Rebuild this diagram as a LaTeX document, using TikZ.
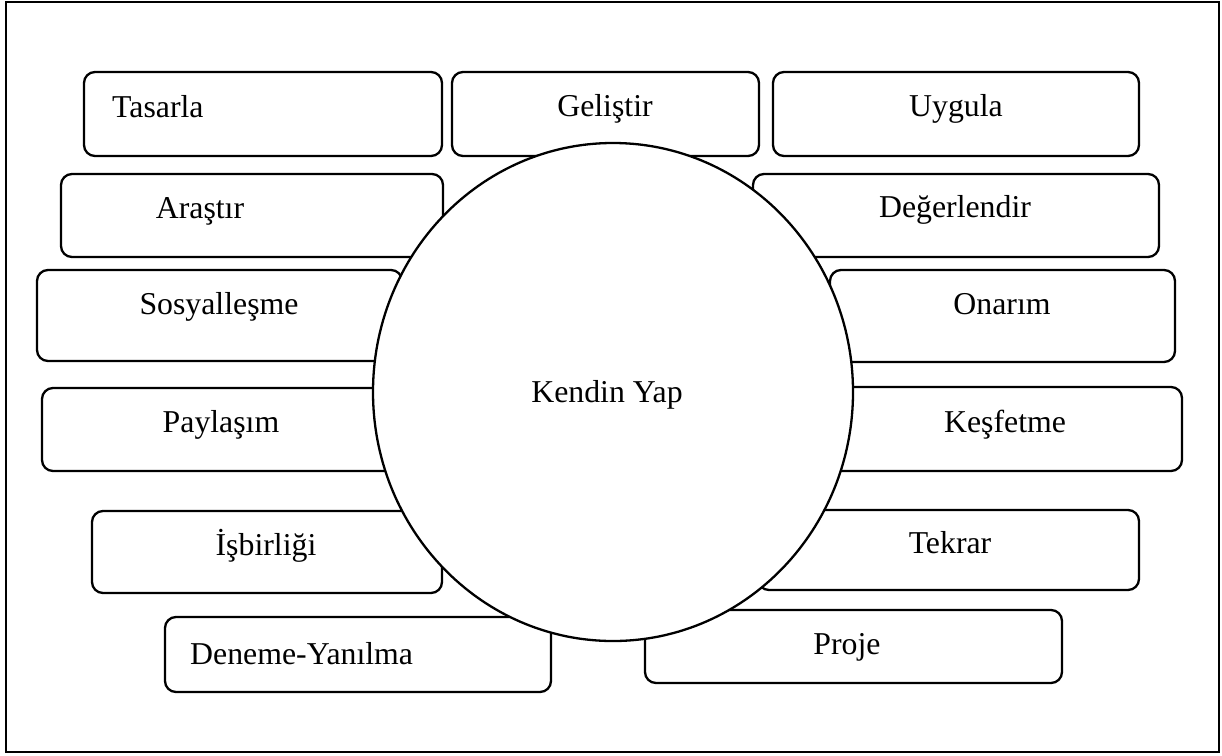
\documentclass[tikz,border=0pt]{standalone}
\usepackage{fontspec}
\setmainfont{Liberation Serif}
\usetikzlibrary{shapes.geometric}
\tikzset{
  boxshape/.style={draw=black, line width=2.3pt, rounded corners=11pt, fill=white},
  lbl/.style={font=\fontsize{31.8}{36}\selectfont, inner sep=0pt, text=black},
  hub/.style={draw=black, line width=2.3pt, fill=white, ellipse, minimum width=480pt, minimum height=498pt, inner sep=0pt},
  framebox/.style={draw=black, line width=2.4pt}
}
\begin{document}
\begin{tikzpicture}[x=1pt,y=-1pt]
\useasboundingbox (0,0) rectangle (1222,755);
\fill[white] (0,0) rectangle (1222,755);
\draw[framebox] (6,2) rectangle (1219,752);

% boxes
\draw[boxshape] (84,72) rectangle (442,156);
\draw[boxshape] (452,72) rectangle (759,156);
\draw[boxshape] (773,72) rectangle (1139,156);
\draw[boxshape] (61,174) rectangle (443,257);
\draw[boxshape] (753,174) rectangle (1159,257);
\draw[boxshape] (37,270) rectangle (402,361);
\draw[boxshape] (830,270) rectangle (1175,362);
\draw[boxshape] (42,388) rectangle (405,471);
\draw[boxshape] (825,387) rectangle (1182,471);
\draw[boxshape] (92,511) rectangle (442,593);
\draw[boxshape] (758,510) rectangle (1139,590);
\draw[boxshape] (165,617) rectangle (551,692);
\draw[boxshape] (645,610) rectangle (1062,683);

% labels
\node[lbl, anchor=base west] (tasarla) at (112,117) {Tasarla};
\node[lbl, anchor=base] (gelistir) at (605,116) {Geliştir};
\node[lbl, anchor=base] (uygula) at (956,116) {Uygula};
\node[lbl, anchor=base] (arastir) at (200,218) {Araştır};
\node[lbl, anchor=base] (degerlendir) at (955,217) {Değerlendir};
\node[lbl, anchor=base] (sosyal) at (219,314) {Sosyalleşme};
\node[lbl, anchor=base] (onarim) at (1002,314) {Onarım};
\node[lbl, anchor=base] (paylasim) at (221,432) {Paylaşım};
\node[lbl, anchor=base] (kesfetme) at (1005,432) {Keşfetme};
\node[lbl, anchor=base] (isbirligi) at (266,555) {İşbirliği};
\node[lbl, anchor=base] (tekrar) at (950,553) {Tekrar};
\node[lbl, anchor=base west] (deneme) at (190,664) {Deneme-Yanılma};
\node[lbl, anchor=base] (proje) at (847,654) {Proje};

% central circle
\node[hub] (center) at (613,392) {};
\node[lbl, anchor=base] (kendin) at (607,402) {Kendin Yap};
\end{tikzpicture}
\end{document}
